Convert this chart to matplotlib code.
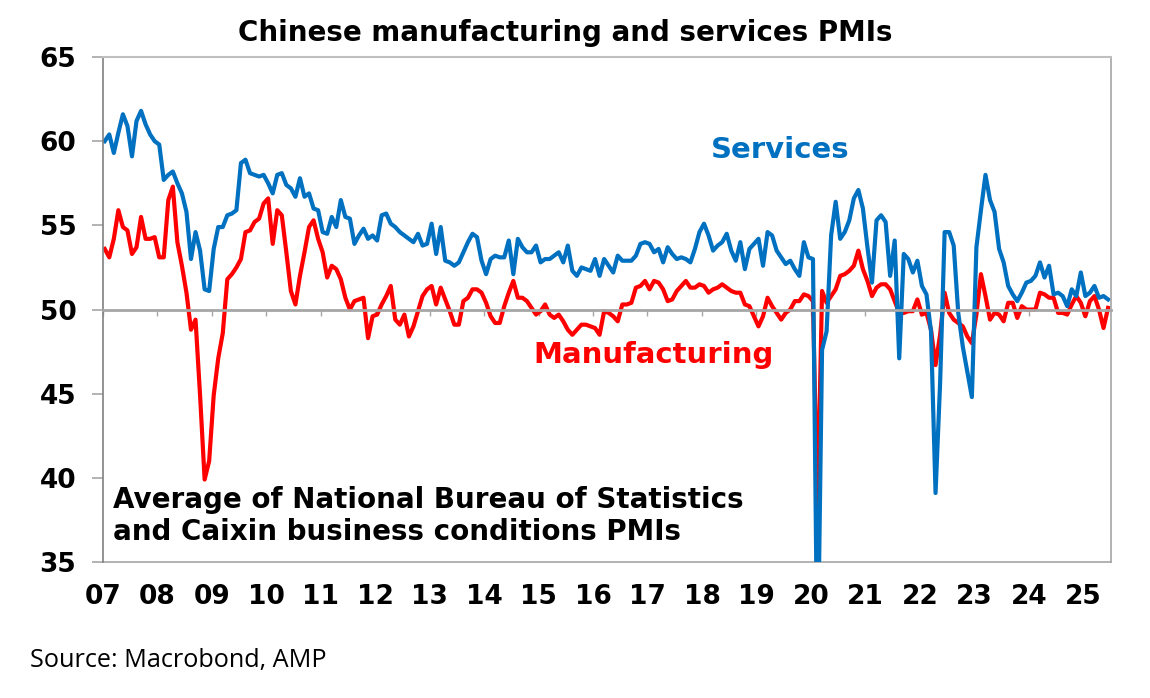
import matplotlib.pyplot as plt
import numpy as np

# monthly averages of NBS and Caixin PMIs, Jan 2007 - Jun 2025
services = [
    60.0, 60.4, 59.3, 60.5, 61.6, 60.9, 59.1, 61.2, 61.8, 61.0,
    60.4, 60.0, 59.8, 57.7, 58.0, 58.2, 57.5, 56.9, 55.8, 53.0,
    54.6, 53.5, 51.2, 51.1, 53.6, 54.9, 54.9, 55.6, 55.7, 55.9,
    58.7, 58.9, 58.1, 58.0, 57.9, 58.0, 57.5, 56.9, 58.0, 58.1,
    57.4, 57.2, 56.7, 57.8, 56.7, 56.9, 56.0, 55.9, 54.6, 54.5,
    55.5, 54.9, 56.5, 55.5, 55.4, 53.9, 54.4, 54.8, 54.2, 54.4,
    54.1, 55.6, 55.7, 55.1, 54.9, 54.6, 54.4, 54.2, 54.0, 54.5,
    53.8, 53.9, 55.1, 53.3, 54.9, 52.9, 52.8, 52.6, 52.8, 53.4,
    54.0, 54.5, 54.3, 52.9, 52.1, 53.0, 53.2, 53.1, 53.1, 54.1,
    52.1, 54.2, 53.7, 53.4, 53.4, 53.8, 52.8, 53.0, 53.0, 53.2,
    53.4, 52.8, 53.8, 52.3, 52.0, 52.5, 52.4, 52.3, 53.0, 52.0,
    53.0, 52.6, 52.2, 53.2, 52.9, 52.9, 52.9, 53.2, 53.9, 54.0,
    53.9, 53.4, 53.6, 52.8, 53.7, 53.3, 53.0, 53.1, 53.0, 52.8,
    53.6, 54.6, 55.1, 54.4, 53.5, 53.8, 54.0, 54.5, 53.5, 52.9,
    54.0, 52.4, 53.6, 53.9, 54.2, 52.6, 54.6, 54.4, 53.5, 53.1,
    52.7, 52.9, 52.4, 52.0, 54.0, 53.1, 53.0, 28.0, 47.6, 48.7,
    54.4, 56.4, 54.2, 54.6, 55.3, 56.6, 57.1, 56.0, 53.7, 51.6,
    55.3, 55.6, 55.2, 52.0, 54.1, 47.1, 53.3, 53.0, 52.2, 52.9,
    51.4, 50.9, 48.7, 39.1, 45.6, 54.6, 54.6, 53.8, 49.8, 47.8,
    46.3, 44.8, 53.7, 55.9, 58.0, 56.5, 55.8, 53.6, 52.8, 51.4,
    50.9, 50.5, 51.0, 51.6, 51.7, 52.0, 52.8, 51.9, 52.6, 50.9,
    51.0, 50.8, 50.2, 51.2, 50.8, 52.2, 50.8, 51.0, 51.4, 50.7,
    50.8, 50.6,
]
manufacturing = [
    53.6, 53.1, 54.2, 55.9, 54.9, 54.7, 53.3, 53.7, 55.5, 54.2,
    54.2, 54.3, 53.1, 53.1, 56.5, 57.3, 54.0, 52.6, 51.0, 48.8,
    49.4, 44.9, 39.9, 41.0, 44.9, 47.1, 48.6, 51.8, 52.1, 52.5,
    53.0, 54.6, 54.7, 55.2, 55.4, 56.3, 56.6, 53.9, 55.9, 55.6,
    53.4, 51.1, 50.3, 52.0, 53.4, 54.9, 55.3, 54.2, 53.4, 51.9,
    52.6, 52.4, 51.8, 50.7, 50.0, 50.5, 50.6, 50.7, 48.3, 49.6,
    49.7, 50.3, 50.8, 51.4, 49.4, 49.1, 49.7, 48.4, 49.0, 49.9,
    50.8, 51.2, 51.4, 50.3, 51.3, 50.6, 49.9, 49.1, 49.1, 50.5,
    50.7, 51.2, 51.2, 51.0, 50.4, 49.6, 49.2, 49.2, 50.2, 51.0,
    51.7, 50.7, 50.7, 50.5, 50.1, 49.7, 49.9, 50.3, 49.7, 49.5,
    49.7, 49.3, 48.8, 48.5, 48.8, 49.1, 49.1, 49.0, 48.9, 48.5,
    49.9, 49.8, 49.6, 49.3, 50.3, 50.3, 50.4, 51.3, 51.4, 51.7,
    51.2, 51.7, 51.6, 51.2, 50.5, 50.6, 51.1, 51.4, 51.7, 51.3,
    51.3, 51.5, 51.4, 51.0, 51.2, 51.3, 51.5, 51.3, 51.1, 51.0,
    51.0, 50.3, 50.2, 49.6, 49.0, 49.6, 50.7, 50.2, 49.8, 49.4,
    49.8, 50.0, 50.5, 50.5, 50.9, 50.8, 50.5, 38.0, 51.1, 50.4,
    50.8, 51.2, 52.0, 52.1, 52.3, 52.6, 53.5, 52.4, 51.7, 50.8,
    51.3, 51.5, 51.5, 51.2, 50.5, 49.8, 49.8, 49.9, 49.9, 50.6,
    49.7, 49.8, 48.8, 46.7, 48.5, 51.0, 49.8, 49.4, 49.2, 49.0,
    48.4, 48.0, 49.7, 52.1, 50.8, 49.4, 49.8, 49.7, 49.3, 50.4,
    50.4, 49.5, 50.2, 50.0, 50.0, 50.0, 51.0, 50.9, 50.7, 50.7,
    49.8, 49.8, 49.7, 50.3, 50.8, 50.4, 49.6, 50.5, 50.8, 50.0,
    48.9, 50.1,
]
years = list(range(2007, 2026))
year_labels = ["%02d" % (y % 100) for y in years]
yticks = [35, 40, 45, 50, 55, 60, 65]

plt.rcParams['font.family'] = ['DejaVu Sans']
plt.rcParams['font.weight'] = 'bold'

t = 2007 + (np.arange(len(services)) + 0.45) / 12

fig = plt.figure(figsize=(11.5, 6.98), dpi=100)
ax = fig.add_axes([0.0893, 0.1948, 0.8768, 0.7235])

ax.plot(t, manufacturing, color='#FF0000', lw=3, solid_joinstyle='round')
ax.plot(t, services, color='#0070C0', lw=3, solid_joinstyle='round')

ax.set_xlim(2007, 2007 + 222.1 / 12)
ax.set_ylim(35, 65)

# x axis crosses at 50
ax.spines['bottom'].set_position(('data', 50))
ax.spines['bottom'].set_color('#A6A6A6')
ax.spines['bottom'].set_linewidth(2)
ax.spines['left'].set_color('#808080')
ax.spines['left'].set_linewidth(1.2)
ax.spines['top'].set_color('#BFBFBF')
ax.spines['top'].set_linewidth(1.5)
ax.spines['right'].set_color('#A6A6A6')
ax.spines['right'].set_linewidth(1.2)
ax.set_xticks(years)
ax.tick_params(axis='x', direction='out', length=4, width=1, color='#A6A6A6',
               labelbottom=False)

ax.set_yticks(yticks)
ax.tick_params(axis='y', direction='out', length=8, width=1.2, color='#A6A6A6',
               pad=11, labelsize=19)

sec = ax.secondary_xaxis(0)
sec.set_xticks(years, labels=year_labels)
sec.tick_params(length=0, pad=16, labelsize=19)
sec.spines['bottom'].set_color('#A6A6A6')
sec.spines['bottom'].set_linewidth(1.2)

fig.text(565 / 1150, 1 - 33 / 698, "Chinese manufacturing and services PMIs",
         ha='center', va='center', fontsize=20)
fig.text(780 / 1150, 1 - 150 / 698, "Services", color='#0070C0',
         ha='center', va='center', fontsize=21)
fig.text(654 / 1150, 1 - 355 / 698, "Manufacturing", color='#FF0000',
         ha='center', va='center', fontsize=21)
fig.text(113 / 1150, 1 - 516 / 698,
         "Average of National Bureau of Statistics\nand Caixin business conditions PMIs",
         ha='left', va='center', fontsize=20, linespacing=1.2)
fig.text(30 / 1150, 1 - 660 / 698, "Source: Macrobond, AMP", fontweight='normal',
         family=['Open Sans', 'DejaVu Sans'], ha='left', va='center', fontsize=18.2)

fig.savefig('out.png', dpi=100)
